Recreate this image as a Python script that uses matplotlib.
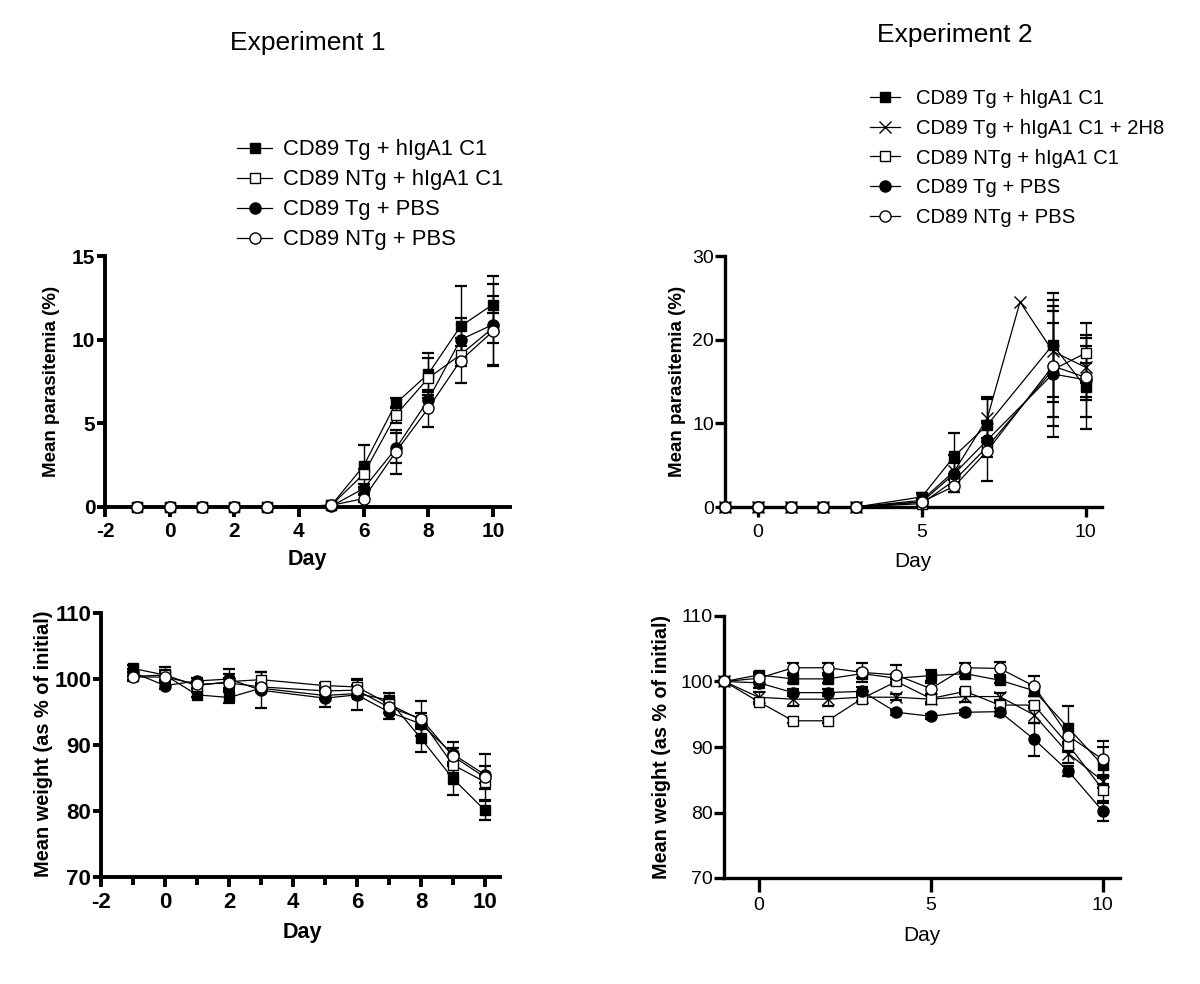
import numpy as np
import matplotlib
matplotlib.use("Agg")
import matplotlib.pyplot as plt
from matplotlib.ticker import MultipleLocator, FixedLocator

plt.rcParams['font.family'] = ['Liberation Sans', 'DejaVu Sans']
plt.rcParams['axes.unicode_minus'] = False

# ---------------- data ----------------
labels_exp1 = ["CD89 Tg + hIgA1 C1", "CD89 NTg + hIgA1 C1", "CD89 Tg + PBS", "CD89 NTg + PBS"]
labels_exp2 = ["CD89 Tg + hIgA1 C1", "CD89 Tg + hIgA1 C1 + 2H8", "CD89 NTg + hIgA1 C1",
               "CD89 Tg + PBS", "CD89 NTg + PBS"]

nan = np.nan

# Experiment 1 parasitemia
days_e1 = [-1, 0, 1, 2, 3, 5, 6, 7, 8, 9, 10]
par1_tg_iga = [0, 0, 0, 0, 0, 0.1, 2.45, 6.2, 7.95, 10.8, 12.1]
par1_tg_iga_err = [nan, nan, nan, nan, nan, nan, 1.25, 0.3, 1.25, 2.4, 1.7]
par1_ntg_iga = [0, 0, 0, 0, 0, 0.1, 1.97, 5.5, 7.7, 9.1, 10.7]
par1_ntg_iga_err = [nan, nan, nan, nan, nan, nan, 0.3, 0.5, 1.2, 0.5, 0.9]
par1_tg_pbs = [0, 0, 0, 0, 0, 0.05, 1.1, 3.5, 6.4, 10.0, 10.9]
par1_tg_pbs_err = [nan, nan, nan, nan, nan, nan, 0.3, 0.9, 0.5, 1.3, 2.4]
par1_ntg_pbs = [0, 0, 0, 0, 0, 0.1, 0.5, 3.3, 5.9, 8.75, 10.5]
par1_ntg_pbs_err = [nan, nan, nan, nan, nan, nan, 0.2, 1.3, 1.1, 1.35, 2.1]

# Experiment 1 weight
wt1_tg_iga = [101.6, 100.6, 97.6, 97.2, 98.6, 97.5, 97.8, 96.8, 91.0, 84.9, 80.1]
wt1_tg_iga_err = [0.5, 0.8, 0.4, 0.9, 0.5, 0.6, 0.5, 1.1, 2.0, 2.5, 1.4]
wt1_ntg_iga = [100.4, 100.6, 99.0, 99.6, 99.9, 99.0, 98.8, 96.2, 93.8, 87.0, 84.4]
wt1_ntg_iga_err = [0.6, 1.2, 0.5, 1.2, 1.2, 0.4, 1.2, 0.8, 1.0, 1.2, 1.0]
wt1_tg_pbs = [101.0, 99.0, 99.7, 100.0, 98.3, 97.1, 97.6, 95.0, 93.2, 88.6, 85.5]
wt1_tg_pbs_err = [0.5, 0.5, 0.4, 1.5, 2.7, 1.3, 2.3, 1.1, 0.8, 1.8, 1.3]
wt1_ntg_pbs = [100.3, 100.3, 99.2, 99.4, 98.8, 98.2, 98.3, 95.7, 94.0, 88.3, 85.1]
wt1_ntg_pbs_err = [0.6, 0.8, 0.5, 0.8, 0.6, 0.6, 0.8, 0.8, 2.6, 1.2, 3.5]

# Experiment 2 parasitemia (day 8 measured only for the 2H8 group)
days_e2p = [-1, 0, 1, 2, 3, 5, 6, 7, 8, 9, 10]
par2_tg_iga = [0, 0, 0, 0, 0, 1.2, 6.1, 9.8, nan, 19.4, 14.3]
par2_tg_iga_err = [nan, nan, nan, nan, nan, 0.5, 2.8, 3.4, nan, 6.2, 5.0]
par2_tg_iga_2h8 = [0, 0, 0, 0, 0, 0.8, 4.3, 10.6, 24.5, 18.6, 16.7]
par2_tg_iga_2h8_err = [nan, nan, nan, nan, nan, 0.3, 1.0, 2.3, nan, 6.1, 3.9]
par2_ntg_iga = [0, 0, 0, 0, 0, 0.4, 3.2, 7.2, nan, 16.4, 18.4]
par2_ntg_iga_err = [nan, nan, nan, nan, nan, 0.2, 0.7, 0.6, nan, 5.6, 3.6]
par2_tg_pbs = [0, 0, 0, 0, 0, 0.6, 4.0, 8.0, nan, 15.9, 15.2]
par2_tg_pbs_err = [nan, nan, nan, nan, nan, 0.3, 2.2, 2.0, nan, 7.5, 2.0]
par2_ntg_pbs = [0, 0, 0, 0, 0, 0.6, 2.5, 6.7, nan, 16.85, 15.5]
par2_ntg_pbs_err = [nan, nan, nan, nan, nan, 0.3, 0.7, 3.6, nan, 7.2, 4.7]

# Experiment 2 weight
days_e2w = [-1, 0, 1, 2, 3, 4, 5, 6, 7, 8, 9, 10]
wt2_tg_iga = [100, 101.0, 100.4, 100.4, 101.2, 100.5, 100.9, 101.2, 100.2, 98.6, 92.9, 87.2]
wt2_tg_iga_err = [0, 0.5, 0.6, 0.6, 0.6, 0.6, 0.8, 0.5, 0.5, 0.8, 3.4, 2.8]
wt2_tg_iga_2h8 = [100, 97.6, 97.3, 97.3, 97.6, 97.6, 97.3, 97.7, 97.7, 94.9, 89.0, 84.8]
wt2_tg_iga_2h8_err = [0, 0.8, 1.0, 1.0, 0.6, 0.5, 0.8, 0.8, 0.5, 1.2, 1.5, 1.0]
wt2_ntg_iga = [100, 96.9, 94.0, 94.0, 97.4, 100.0, 97.4, 98.5, 96.4, 96.4, 90.3, 83.5]
wt2_ntg_iga_err = [0, 0.4, 0.4, 0.4, 0.4, 0.4, 0.6, 0.4, 0.4, 0.4, 1.0, 2.0]
wt2_tg_pbs = [100, 99.8, 98.3, 98.3, 98.5, 95.3, 94.7, 95.3, 95.4, 91.2, 86.3, 80.2]
wt2_tg_pbs_err = [0, 0.8, 0.5, 0.5, 0.6, 0.4, 0.4, 0.4, 0.6, 2.5, 0.8, 1.5]
wt2_ntg_pbs = [100, 100.5, 102.1, 102.1, 101.4, 101.0, 98.9, 102.1, 102.0, 99.3, 91.7, 88.1]
wt2_ntg_pbs_err = [0, 0.6, 0.8, 0.8, 1.5, 1.5, 0.8, 0.8, 1.0, 1.5, 1.0, 2.8]

# ---------------- styles ----------------
sty_fsq = dict(marker='s', mfc='black', mec='black', ms=7.5)
sty_osq = dict(marker='s', mfc='white', mec='black', ms=7.5)
sty_fci = dict(marker='o', mfc='black', mec='black', ms=8)
sty_oci = dict(marker='o', mfc='white', mec='black', ms=8)
sty_x = dict(marker='x', mfc='black', mec='black', ms=9)

W, H = 1200, 984
fig = plt.figure(figsize=(W / 100, H / 100), dpi=100)


def ax_at(l, t, r, b):
    return fig.add_axes([l / W, 1 - b / H, (r - l) / W, (b - t) / H])


def draw(ax, days, series, styles, labels):
    handles = []
    d = np.asarray(days, float)
    for (y, e), st, lab in zip(series, styles, labels):
        y = np.asarray(y, float)
        e = np.asarray(e, float)
        m = ~np.isnan(y)
        em = m & ~np.isnan(e) & (e > 0)
        ax.errorbar(d[em], y[em], yerr=e[em], fmt='none', ecolor='black',
                    elinewidth=1.0, capsize=4.5, capthick=1.6, clip_on=False, zorder=3)
        ln, = ax.plot(d[m], y[m], color='black', lw=0.9, mew=1.0, clip_on=False,
                      zorder=4, label=lab, **st)
        handles.append(ln)
    return handles


def style_axes(ax, spine_w):
    for s in ['top', 'right']:
        ax.spines[s].set_visible(False)
    for s in ['left', 'bottom']:
        ax.spines[s].set_linewidth(spine_w)
    ax.tick_params(which='both', direction='out', width=spine_w, color='black')


# ---------------- Experiment 1: parasitemia ----------------
ax1 = ax_at(105, 256, 510, 507)
st1 = [sty_fsq, sty_osq, sty_fci, sty_oci]
h1 = draw(ax1, days_e1,
          [(par1_tg_iga, par1_tg_iga_err), (par1_ntg_iga, par1_ntg_iga_err),
           (par1_tg_pbs, par1_tg_pbs_err), (par1_ntg_pbs, par1_ntg_pbs_err)],
          st1, labels_exp1)
ax1.set_xlim(-2, 10.53)
ax1.set_ylim(0, 15)
ax1.xaxis.set_major_locator(MultipleLocator(2))
ax1.yaxis.set_major_locator(MultipleLocator(5))
style_axes(ax1, 2.8)
ax1.tick_params(axis='y', length=6, pad=1, labelsize=15)
ax1.tick_params(axis='x', length=7, pad=4, labelsize=15)
for t in ax1.get_xticklabels() + ax1.get_yticklabels():
    t.set_fontweight('bold')
ax1.set_xlabel("Day", fontsize=15.5, fontweight='bold')
ax1.set_ylabel("Mean parasitemia (%)", fontsize=13.5, fontweight='bold')
ax1.xaxis.set_label_coords(0.499, -0.211)
ax1.xaxis.label.set_va('center')
ax1.yaxis.set_label_coords(-0.131, 0.502)
ax1.yaxis.label.set_va('center')

# ---------------- Experiment 1: weight ----------------
ax3 = ax_at(101, 613, 500, 877)
draw(ax3, days_e1,
     [(wt1_tg_iga, wt1_tg_iga_err), (wt1_ntg_iga, wt1_ntg_iga_err),
      (wt1_tg_pbs, wt1_tg_pbs_err), (wt1_ntg_pbs, wt1_ntg_pbs_err)],
     st1, labels_exp1)
ax3.set_xlim(-2, 10.47)
ax3.set_ylim(70, 110)
ax3.xaxis.set_major_locator(MultipleLocator(2))
ax3.xaxis.set_minor_locator(MultipleLocator(1))
ax3.yaxis.set_major_locator(MultipleLocator(10))
style_axes(ax3, 2.8)
ax3.tick_params(axis='y', length=6, pad=1, labelsize=16)
ax3.tick_params(axis='x', which='major', length=7, pad=4, labelsize=16)
ax3.tick_params(axis='x', which='minor', length=6)
for t in ax3.get_xticklabels() + ax3.get_yticklabels():
    t.set_fontweight('bold')
ax3.set_xlabel("Day", fontsize=15.5, fontweight='bold')
ax3.set_ylabel("Mean weight (as % of initial)", fontsize=14.4, fontweight='bold')
ax3.xaxis.set_label_coords(0.504, -0.212)
ax3.xaxis.label.set_va('center')
ax3.yaxis.set_label_coords(-0.145, 0.504)
ax3.yaxis.label.set_va('center')

# ---------------- Experiment 2: parasitemia ----------------
st2 = [sty_fsq, sty_x, sty_osq, sty_fci, sty_oci]
ax2 = ax_at(725, 256, 1102, 507)
h2 = draw(ax2, days_e2p,
          [(par2_tg_iga, par2_tg_iga_err), (par2_tg_iga_2h8, par2_tg_iga_2h8_err),
           (par2_ntg_iga, par2_ntg_iga_err), (par2_tg_pbs, par2_tg_pbs_err),
           (par2_ntg_pbs, par2_ntg_pbs_err)],
          st2, labels_exp2)
ax2.set_xlim(-1, 10.5)
ax2.set_ylim(0, 30)
ax2.xaxis.set_major_locator(FixedLocator([0, 5, 10]))
ax2.yaxis.set_major_locator(MultipleLocator(10))
style_axes(ax2, 2.4)
ax2.tick_params(axis='y', length=7, pad=1, labelsize=14)
ax2.tick_params(axis='x', length=7, pad=5, labelsize=14)
ax2.set_xlabel("Day", fontsize=15)
ax2.set_ylabel("Mean parasitemia (%)", fontsize=13.5, fontweight='bold')
ax2.xaxis.set_label_coords(0.499, -0.219)
ax2.xaxis.label.set_va('center')
ax2.yaxis.set_label_coords(-0.125, 0.502)
ax2.yaxis.label.set_va('center')

# ---------------- Experiment 2: weight ----------------
ax4 = ax_at(724, 616, 1120, 878)
draw(ax4, days_e2w,
     [(wt2_tg_iga, wt2_tg_iga_err), (wt2_tg_iga_2h8, wt2_tg_iga_2h8_err),
      (wt2_ntg_iga, wt2_ntg_iga_err), (wt2_tg_pbs, wt2_tg_pbs_err),
      (wt2_ntg_pbs, wt2_ntg_pbs_err)],
     st2, labels_exp2)
ax4.set_xlim(-1.01, 10.5)
ax4.set_ylim(70, 110)
ax4.xaxis.set_major_locator(FixedLocator([0, 5, 10]))
ax4.yaxis.set_major_locator(MultipleLocator(10))
style_axes(ax4, 2.4)
ax4.tick_params(axis='y', length=7, pad=1, labelsize=14)
ax4.tick_params(axis='x', length=10, pad=4, labelsize=14)
ax4.set_xlabel("Day", fontsize=15)
ax4.set_ylabel("Mean weight (as % of initial)", fontsize=14.2, fontweight='bold')
ax4.xaxis.set_label_coords(0.5, -0.218)
ax4.xaxis.label.set_va('center')
ax4.yaxis.set_label_coords(-0.157, 0.5)
ax4.yaxis.label.set_va('center')

# ---------------- titles & legends ----------------
fig.text(308 / W, 1 - 43 / H, "Experiment 1", fontsize=19, ha='center', va='center')
fig.text(955 / W, 1 - 35 / H, "Experiment 2", fontsize=19, ha='center', va='center')

fig.legend(handles=h1, labels=labels_exp1, loc='upper left',
           bbox_to_anchor=(237 / W, 1 - 139.5 / H), frameon=False, fontsize=15.8,
           handlelength=1.6, handletextpad=0.5, labelspacing=0.41,
           borderpad=0, borderaxespad=0)
fig.legend(handles=h2, labels=labels_exp2, loc='upper left',
           bbox_to_anchor=(870 / W, 1 - 89.5 / H), frameon=False, fontsize=14.6,
           handlelength=1.5, handletextpad=0.75, labelspacing=0.52,
           borderpad=0, borderaxespad=0)

fig.savefig("out.png", dpi=100, facecolor='white')
